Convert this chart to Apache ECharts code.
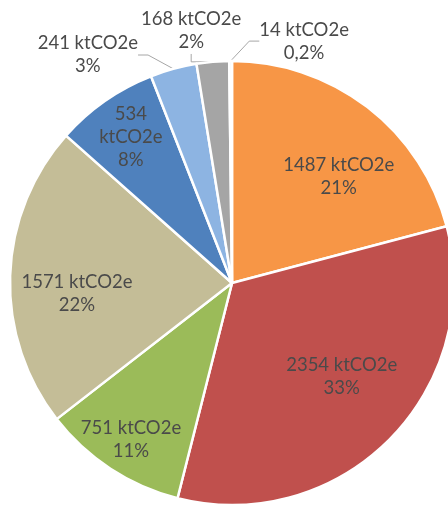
<!DOCTYPE html>
<html>
<head>
<meta charset="utf-8">
<script src="https://cdn.jsdelivr.net/npm/echarts@6/dist/echarts.min.js"></script>
<style>
html,body{margin:0;padding:0;background:#fff;}
#chart{width:448px;height:505px;}
</style>
</head>
<body>
<div id="chart"></div>
<script>
// Data (clockwise from 12 o'clock)
const categories = ['S1', 'S2', 'S3', 'S4', 'S5', 'S6', 'S7', 'S8'];
const values = [1487, 2354, 751, 1571, 534, 241, 168, 14];
const unit = 'ktCO2e';

// Styles
const colors = ['#F79646', '#C0504D', '#9BBB59', '#C4BD97', '#4F81BD', '#8DB4E2', '#A5A5A5', '#EDEDED'];
const outside = [false, false, false, false, false, true, true, true];
const wrapUnit = [false, false, false, false, true, false, false, false];
// label placement: [angle clockwise from top in degrees, distance as fraction of radius]
const labelPolar = [[45, 0.68], [130.5, 0.65], [212.8, 0.84], [266, 0.70], [325.3, 0.80], [327.7, 1.215], [350.8, 1.15], [16.6, 1.137]];

const CX = 232, CY = 283, R = 222;
const total = values.reduce((a, b) => a + b, 0);

function pctText(v) {
  const p = v / total * 100;
  if (p < 1) return p.toFixed(1).replace('.', ',') + '%';
  return Math.round(p) + '%';
}

const chart = echarts.init(document.getElementById('chart'), null, {renderer: 'canvas'});
chart.setOption({
  animation: false,
  series: [{
    type: 'pie',
    center: [CX, CY],
    radius: R,
    startAngle: 90,
    clockwise: true,
    avoidLabelOverlap: false,
    itemStyle: {borderColor: '#fff', borderWidth: 2.5},
    label: {
      fontFamily: 'Lato',
      fontSize: 18.5,
      color: '#4a4a4a',
      lineHeight: 23,
      align: 'center'
    },
    labelLine: {lineStyle: {color: '#A6A6A6', width: 1}, length: 10, length2: 10},
    labelLayout: function (params) {
      const i = params.dataIndex;
      const a = labelPolar[i][0] * Math.PI / 180;
      const f = labelPolar[i][1];
      return {
        x: CX + f * R * Math.sin(a),
        y: CY - f * R * Math.cos(a),
        align: 'center',
        verticalAlign: 'middle'
      };
    },
    emphasis: {disabled: true},
    data: categories.map((c, i) => ({
      name: c,
      value: values[i],
      itemStyle: {color: colors[i]},
      label: {
        position: outside[i] ? 'outside' : 'inside',
        formatter: () => values[i] + (wrapUnit[i] ? '\n' : ' ') + unit + '\n' + pctText(values[i])
      },
      labelLine: {show: outside[i]}
    }))
  }]
});
</script>
</body>
</html>
